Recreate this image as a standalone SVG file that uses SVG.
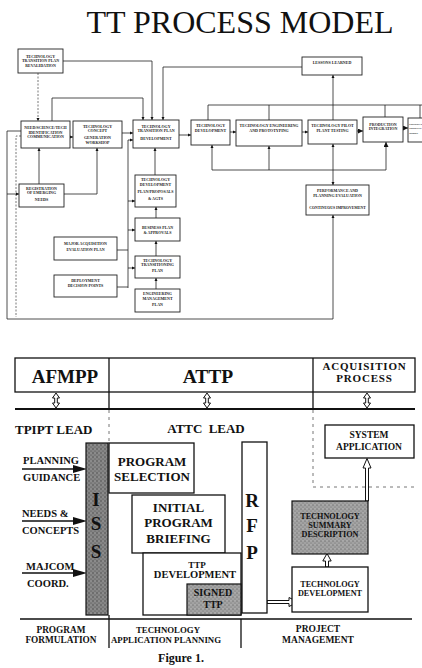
<svg xmlns="http://www.w3.org/2000/svg" width="422" height="668" viewBox="0 0 422 668">
<defs>
<style>
.bx{fill:#fff;stroke:#222;stroke-width:0.9}
.t{font-family:"Liberation Serif","Times New Roman",serif;font-weight:bold;font-size:4px;fill:#222;text-anchor:middle}
.ln{fill:none;stroke:#222;stroke-width:0.8}
.dl{fill:none;stroke:#555;stroke-width:0.8;stroke-dasharray:2,1.5}
.B{fill:#fff;stroke:#111;stroke-width:1.3}
.T{font-family:"Liberation Serif","Times New Roman",serif;font-weight:bold;fill:#111;text-anchor:middle}
.L{font-family:"Liberation Serif","Times New Roman",serif;font-weight:bold;fill:#111}
.bl{fill:none;stroke:#111;stroke-width:1.3}
.dsh{fill:none;stroke:#777;stroke-width:1;stroke-dasharray:3,4}
.ha{fill:#fff;stroke:#111;stroke-width:1}
</style>
<marker id="a" viewBox="0 0 6 6" refX="6" refY="3" markerWidth="3.2" markerHeight="3.2" markerUnits="userSpaceOnUse" orient="auto"><path d="M0,0L6,3L0,6z" fill="#111"/></marker>
<marker id="ab" viewBox="0 0 6 6" refX="6" refY="3" markerWidth="5" markerHeight="5" markerUnits="userSpaceOnUse" orient="auto"><path d="M0,0L6,3L0,6z" fill="#111"/></marker>
<pattern id="st" width="4" height="4" patternUnits="userSpaceOnUse"><rect width="4" height="4" fill="#a2a2a2"/><circle cx="1" cy="1" r="0.6" fill="#555"/><circle cx="3" cy="3" r="0.5" fill="#666"/><circle cx="3" cy="0.8" r="0.4" fill="#ddd"/></pattern>
<pattern id="st2" width="4" height="4" patternUnits="userSpaceOnUse"><rect width="4" height="4" fill="#858585"/><circle cx="1" cy="1" r="0.7" fill="#444"/><circle cx="3" cy="3" r="0.6" fill="#505050"/><circle cx="3" cy="1" r="0.4" fill="#bbb"/></pattern>
</defs>
<rect width="422" height="668" fill="#fff"/>
<text x="240" y="33" font-family="Liberation Serif, Times New Roman, serif" font-size="32" fill="#111" text-anchor="middle">TT PROCESS MODEL</text>

<g id="connectors">
<path class="ln" d="M63,61H152V120" marker-end="url(#a)"/>
<path class="ln" d="M302,67H163V120" marker-end="url(#a)"/>
<path class="dl" d="M38,73V121" marker-end="url(#a)"/>
<path class="ln" d="M52,121V98H143V120" marker-end="url(#a)"/>
<path class="ln" d="M65,137H73" marker-end="url(#a)"/>
<path class="ln" d="M122,133H133" marker-end="url(#a)"/>
<path class="ln" d="M179,135H191" marker-end="url(#a)"/>
<path class="ln" d="M230,132H236" marker-end="url(#a)"/>
<path class="ln" d="M302,132H308" marker-end="url(#a)"/>
<path class="ln" d="M357,131H363" marker-end="url(#ab)"/>
<path class="ln" d="M402,128H408" marker-end="url(#ab)"/>
<path class="ln" d="M208,120V105H422M269,105V120M385,105V117M420,105V118"/>
<path class="ln" d="M333,120V75" marker-end="url(#a)"/>
<path class="ln" d="M212,170H386"/>
<path class="ln" d="M212,170V145" marker-end="url(#a)"/>
<path class="ln" d="M269,170V146" marker-end="url(#a)"/>
<path class="ln" d="M333,170V144" marker-end="url(#a)"/>
<path class="ln" d="M386,170V142" marker-end="url(#ab)"/>
<path class="ln" d="M333,170V185" marker-end="url(#a)"/>
<path class="ln" d="M21,131H7V319H333V215" marker-end="url(#a)"/>
<path class="dl" d="M21,136H16V317"/>
<path class="ln" d="M7,194H19" marker-end="url(#a)"/>
<path class="ln" d="M39,184V148" marker-end="url(#a)"/>
<path class="ln" d="M64,194H97V148" marker-end="url(#a)"/>
<path class="ln" d="M128,288V140H133" marker-end="url(#a)"/>
<path class="ln" d="M128,201H135" marker-end="url(#a)"/>
<path class="ln" d="M128,230H135" marker-end="url(#a)"/>
<path class="ln" d="M128,268H135" marker-end="url(#a)"/>
<path class="ln" d="M117,250H128M117,287H128"/>
<path class="ln" d="M155,175V148" marker-end="url(#a)"/>
<path class="ln" d="M156,218V207" marker-end="url(#a)"/>
<path class="ln" d="M156,256V241" marker-end="url(#a)"/>
<path class="ln" d="M156,289V278" marker-end="url(#a)"/>
</g>

<g id="n-revalidation"><rect class="bx" x="18" y="49" width="45" height="24"/><text class="t" x="40.5"><tspan x="40.5" y="57.8">TECHNOLOGY</tspan><tspan x="40.5" y="62.4">TRANSITION PLAN</tspan><tspan x="40.5" y="67">REVALIDATION</tspan></text></g>
<g id="n-lessons"><rect class="bx" x="302" y="57" width="60" height="18"/><text class="t" x="332" y="63.5">LESSONS LEARNED</text></g>
<g id="n-need"><rect class="bx" x="21" y="121" width="49" height="27"/><text class="t"><tspan x="45.5" y="129">NEED/SCIENCE/TECH</tspan><tspan x="45.5" y="133.6">IDENTIFICATION</tspan><tspan x="45.5" y="138.2">COMMUNICATION</tspan></text></g>
<g id="n-concept"><rect class="bx" x="73" y="121" width="49" height="27"/><text class="t"><tspan x="97.5" y="127.5">TECHNOLOGY</tspan><tspan x="97.5" y="132">CONCEPT</tspan><tspan x="97.5" y="139">GENERATION</tspan><tspan x="97.5" y="143.6">WORKSHOP</tspan></text></g>
<g id="n-ttpdev"><rect class="bx" x="133" y="120" width="46" height="28"/><text class="t"><tspan x="156" y="127.5">TECHNOLOGY</tspan><tspan x="156" y="132">TRANSITION PLAN</tspan><tspan x="156" y="139.5">DEVELOPMENT</tspan></text></g>
<g id="n-techdev"><rect class="bx" x="191" y="120" width="39" height="25"/><text class="t"><tspan x="210.5" y="127">TECHNOLOGY</tspan><tspan x="210.5" y="131.6">DEVELOPMENT</tspan></text></g>
<g id="n-engineering"><rect class="bx" x="236" y="120" width="66" height="26"/><text class="t"><tspan x="269" y="127">TECHNOLOGY ENGINEERING</tspan><tspan x="269" y="131.6">AND PROTOTYPING</tspan></text></g>
<g id="n-pilot"><rect class="bx" x="308" y="120" width="49" height="24"/><text class="t"><tspan x="332.5" y="127">TECHNOLOGY PILOT</tspan><tspan x="332.5" y="131.6">PLANT TESTING</tspan></text></g>
<g id="n-production"><rect class="bx" x="363" y="117" width="40" height="25"/><text class="t"><tspan x="383" y="125.5">PRODUCTION</tspan><tspan x="383" y="130">INTEGRATION</tspan></text></g>
<g id="n-deploy"><rect class="bx" x="408" y="118" width="30" height="24"/><text class="t" style="text-anchor:start;font-size:2.6px"><tspan x="409.3" y="125">PRODUCT</tspan><tspan x="409.3" y="129.4">IMPROVE</tspan><tspan x="409.3" y="133.8">MGMT</tspan></text></g>
<g id="n-registration"><rect class="bx" x="19" y="184" width="45" height="23"/><text class="t"><tspan x="41.5" y="189.5">REGISTRATION</tspan><tspan x="41.5" y="194">OF EMERGING</tspan><tspan x="41.5" y="200.5">NEEDS</tspan></text></g>
<g id="n-tdplan"><rect class="bx" x="135" y="175" width="41" height="32"/><text class="t"><tspan x="155.5" y="181">TECHNOLOGY</tspan><tspan x="155.5" y="186">DEVELOPMENT</tspan><tspan x="155.5" y="193">PLAN/PROPOSALS</tspan><tspan x="155.5" y="199.5">&amp; AGTS</tspan></text></g>
<g id="n-business"><rect class="bx" x="135" y="218" width="45" height="23"/><text class="t"><tspan x="157.5" y="228.5">BUSINESS PLAN</tspan><tspan x="157.5" y="234">&amp; APPROVALS</tspan></text></g>
<g id="n-ttplan"><rect class="bx" x="135" y="256" width="45" height="22"/><text class="t"><tspan x="157.5" y="261.5">TECHNOLOGY</tspan><tspan x="157.5" y="266">TRANSITIONING</tspan><tspan x="157.5" y="272">PLAN</tspan></text></g>
<g id="n-emp"><rect class="bx" x="135" y="289" width="45" height="23"/><text class="t"><tspan x="157.5" y="295">ENGINEERING</tspan><tspan x="157.5" y="300">MANAGEMENT</tspan><tspan x="157.5" y="306">PLAN</tspan></text></g>
<g id="n-majacq"><rect class="bx" x="54" y="237" width="63" height="23"/><text class="t"><tspan x="85.5" y="244.5">MAJOR ACQUISITION</tspan><tspan x="85.5" y="250.5">EVALUATION PLAN</tspan></text></g>
<g id="n-decision"><rect class="bx" x="54" y="275" width="63" height="22"/><text class="t"><tspan x="85.5" y="281.5">DEPLOYMENT</tspan><tspan x="85.5" y="287">DECISION POINTS</tspan></text></g>
<g id="n-performance"><rect class="bx" x="306" y="185" width="63" height="30"/><text class="t"><tspan x="337.5" y="192">PERFORMANCE AND</tspan><tspan x="337.5" y="196.8">PLANNING EVALUATION</tspan><tspan x="337.5" y="209" font-size="3.8">CONTINUOUS IMPROVEMENT</tspan></text></g>

<g id="header">
<rect class="B" x="15" y="358" width="400" height="34"/>
<path class="bl" d="M109,358V409M313,358V409"/>
<path fill="none" stroke="#111" stroke-width="2" d="M15,409H415"/>
<text class="T" x="65" y="383" font-size="19">AFMPP</text>
<text class="T" x="208" y="383" font-size="19.5">ATTP</text>
<text class="T" x="364.5" y="369.8" font-size="11" letter-spacing="0.8">ACQUISITION</text>
<text class="T" x="364.5" y="382.4" font-size="11" letter-spacing="0.8">PROCESS</text>
<path class="ha" d="M56,393L59.5,398H57.3V403H59.5L56,408L52.5,403H54.7V398H52.5Z"/>
<path class="ha" d="M207,393L210.5,398H208.3V403H210.5L207,408L203.5,403H205.7V398H203.5Z"/>
<path class="ha" d="M367,393L370.5,398H368.3V403H370.5L367,408L363.5,403H365.7V398H363.5Z"/>
</g>

<g id="bottom-connectors">
<path class="dsh" d="M109,410V443M313,410V487H414"/>
<path class="bl" d="M20,619H412M109,615V648M241,619V648"/>
<path class="bl" d="M22,469H74M22,521H74M22,573H74"/>
<path fill="#111" d="M73,465L87,469L73,473ZM73,517L87,521L73,525ZM73,569L87,573L73,577Z"/>
<path class="ha" d="M267,600.5H289V597.5L298,602L289,606.5V603.5H267Z"/>
<path class="ha" d="M325.5,567V561H322.8L327,553.5L331.2,561H328.5V567Z"/>
<path class="ha" d="M365.5,501V468H363L367,458.5L371,468H368.5V501Z"/>
</g>

<text class="L" x="15" y="434" font-size="13">TPIPT LEAD</text>
<text class="T" x="206" y="433" font-size="13" word-spacing="3">ATTC LEAD</text>
<text class="L" x="23" y="464" font-size="10.5">PLANNING</text>
<text class="L" x="23" y="481" font-size="10.5">GUIDANCE</text>
<text class="L" x="22" y="517" font-size="10.5">NEEDS &amp;</text>
<text class="L" x="22" y="534" font-size="10.5">CONCEPTS</text>
<text class="L" x="26" y="570" font-size="10.5">MAJCOM</text>
<text class="L" x="27" y="587" font-size="10.5">COORD.</text>

<g id="n-iss"><rect x="86" y="443" width="22" height="172" fill="url(#st2)" stroke="#111" stroke-width="1.2"/><text class="T" x="96" y="506" font-size="19">I</text><text class="T" x="96" y="530" font-size="19">S</text><text class="T" x="96" y="558" font-size="19">S</text></g>
<g id="n-progsel"><rect class="B" x="109" y="443" width="85" height="50"/><text class="T" x="152" y="466" font-size="13">PROGRAM</text><text class="T" x="152" y="481" font-size="13">SELECTION</text></g>
<g id="n-ipb"><rect class="B" x="132" y="495" width="93" height="58"/><text class="T" x="178.5" y="512" font-size="13">INITIAL</text><text class="T" x="178.5" y="527" font-size="13">PROGRAM</text><text class="T" x="178.5" y="543" font-size="13">BRIEFING</text></g>
<g id="n-ttpd"><rect class="B" x="143" y="553" width="98" height="62"/><text class="T" x="197" y="568" font-size="9">TTP</text><text class="T" x="195" y="578" font-size="10.5">DEVELOPMENT</text></g>
<g id="n-signed"><rect x="187" y="584" width="54" height="31" fill="url(#st)" stroke="#111" stroke-width="1.2"/><text class="T" x="213" y="596" font-size="10">SIGNED</text><text class="T" x="213" y="608" font-size="10">TTP</text></g>
<g id="n-rfp"><rect class="B" x="242" y="442" width="25" height="171"/><text class="T" x="252" y="507" font-size="19">R</text><text class="T" x="252" y="532" font-size="19">F</text><text class="T" x="252" y="559" font-size="19">P</text></g>
<g id="n-tsd"><rect x="292" y="501" width="76" height="53" fill="url(#st)" stroke="#111" stroke-width="1.2"/><text class="T" x="330" y="519" font-size="8.2">TECHNOLOGY</text><text class="T" x="330" y="528" font-size="8.2">SUMMARY</text><text class="T" x="330" y="537" font-size="8.2">DESCRIPTION</text></g>
<g id="n-td"><rect class="B" x="292" y="567" width="76" height="45"/><text class="T" x="330" y="587" font-size="8.2">TECHNOLOGY</text><text class="T" x="330" y="596" font-size="8.2">DEVELOPMENT</text></g>
<g id="n-sysapp"><rect class="B" x="325" y="425" width="89" height="33"/><text class="T" x="369" y="438" font-size="9.5">SYSTEM</text><text class="T" x="369" y="450" font-size="9.5">APPLICATION</text></g>

<text class="T" x="61" y="633" font-size="9.3">PROGRAM</text>
<text class="T" x="61" y="643" font-size="9.3">FORMULATION</text>
<text class="T" x="168" y="633" font-size="8.8">TECHNOLOGY</text>
<text class="T" x="166" y="643" font-size="8.8">APPLICATION PLANNING</text>
<text class="T" x="318" y="632" font-size="9.5">PROJECT</text>
<text class="T" x="318" y="643" font-size="9.5">MANAGEMENT</text>
<text class="T" x="181" y="662" font-size="12">Figure 1.</text>
</svg>
